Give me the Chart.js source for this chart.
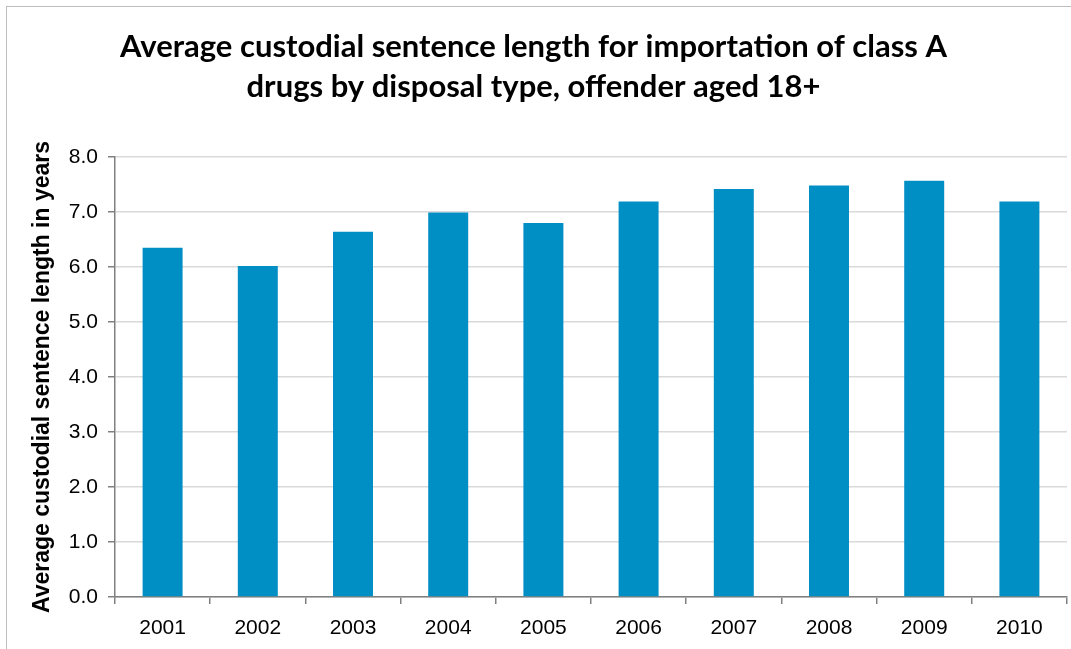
<!DOCTYPE html>
<html>
<head>
<meta charset="utf-8">
<script src="https://cdn.jsdelivr.net/npm/chart.js@4"></script>
<style>
  html, body { margin: 0; padding: 0; background: #fff; }
  #wrap { position: relative; width: 1071px; height: 649px; overflow: hidden; }
  #frame { position: absolute; left: 6px; top: 6px; width: 1080px; height: 660px; border: 1px solid #bdbdbd; box-sizing: border-box; }
  canvas { position: absolute; left: 0; top: 0; }
</style>
</head>
<body>
<div id="wrap">
  <div id="frame"></div>
  <canvas id="chart" width="1071" height="649"></canvas>
</div>
<script>
const years = ["2001", "2002", "2003", "2004", "2005", "2006", "2007", "2008", "2009", "2010"];
const avgSentence = [6.35, 6.02, 6.64, 6.99, 6.80, 7.19, 7.42, 7.48, 7.57, 7.19];
const yTicks = [0, 1, 2, 3, 4, 5, 6, 7, 8];

const ctx = document.getElementById("chart");
const chart = new Chart(ctx, {
    type: "bar",
    data: {
        labels: years,
        datasets: [
            {
                label: "Average custodial sentence length",
                data: avgSentence,
                backgroundColor: "#008fc5",
                categoryPercentage: 1,
                barPercentage: 0.42,
            },
        ],
    },
    options: {
        responsive: false,
        animation: false,
        layout: {
            padding: { left: 0, right: 4, top: 0, bottom: 0 }
        },
        plugins: {
            legend: { display: false },
            tooltip: { enabled: false },
            title: {
                display: true,
                text: [
                    "Average custodial sentence length for importation of class A",
                    "drugs by disposal type, offender aged 18+"
                ],
                color: "#000",
                font: { family: "Lato, 'Open Sans', sans-serif", size: 31, weight: "bold", lineHeight: "40px" },
                padding: { top: 27, bottom: 50 }
            }
        },
        scales: {
            x: {
                grid: {
                    offset: true,
                    drawOnChartArea: false,
                    drawTicks: true,
                    tickLength: 7,
                    tickColor: "#808080",
                    lineWidth: 1.5
                },
                border: { color: "#808080", width: 1.5 },
                ticks: {
                    color: "#000",
                    padding: 12,
                    font: { family: "'Liberation Sans', Arial, sans-serif", size: 21 }
                },
                afterFit: (scale) => { scale.height = 52; }
            },
            y: {
                min: 0,
                max: 8,
                afterBuildTicks: (scale) => {
                    scale.ticks = yTicks.map((v) => ({ value: v }));
                },
                grid: {
                    color: "#d9d9d9",
                    lineWidth: 1.5,
                    drawTicks: true,
                    tickLength: 7,
                    tickColor: "#808080"
                },
                border: { color: "#808080", width: 1.5 },
                ticks: {
                    color: "#000",
                    padding: 10,
                    font: { family: "'Liberation Sans', Arial, sans-serif", size: 21 },
                    callback: (v) => Number(v).toFixed(1)
                },
                title: {
                    display: true,
                    text: "Average custodial sentence length in years",
                    color: "#000",
                    padding: { top: 29, bottom: 0 },
                    font: { family: "'Liberation Sans', Arial, sans-serif", size: 23, weight: "bold" }
                },
                afterFit: (scale) => { scale.width = 115; }
            }
        }
    }
});
</script>
</body>
</html>
